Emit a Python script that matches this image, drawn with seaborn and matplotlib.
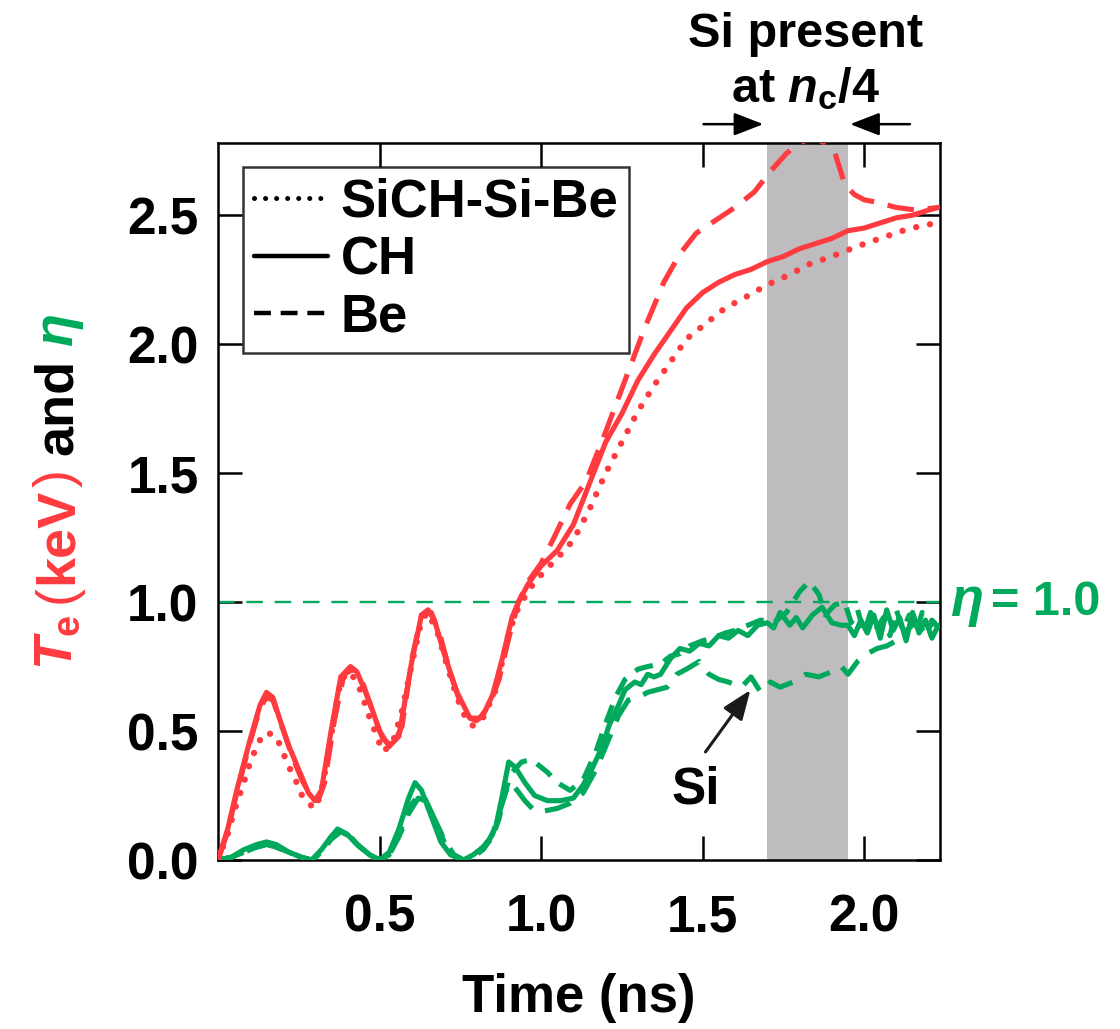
import matplotlib
matplotlib.use("Agg")
import matplotlib.pyplot as plt
from matplotlib.lines import Line2D
import seaborn as sns
import pandas as pd

# ---- Electron temperature Te (keV) ----
t_te_ch = [0.00, 0.03, 0.06, 0.10, 0.13, 0.15, 0.17, 0.19, 0.22, 0.25, 0.28, 0.30, 0.32, 0.35, 0.38,
           0.41, 0.43, 0.47, 0.50, 0.53, 0.56, 0.60, 0.63, 0.65, 0.67, 0.70, 0.74, 0.78, 0.80, 0.82,
           0.85, 0.88, 0.91, 0.93, 0.96, 1.00, 1.05, 1.10, 1.15, 1.20, 1.25, 1.30, 1.35, 1.40, 1.45,
           1.50, 1.55, 1.60, 1.65, 1.70, 1.75, 1.80, 1.85, 1.90, 1.95, 2.00, 2.05, 2.10, 2.15, 2.20, 2.23]
te_ch = [0.00, 0.12, 0.28, 0.47, 0.60, 0.65, 0.63, 0.55, 0.44, 0.35, 0.26, 0.23, 0.27, 0.50, 0.71,
         0.75, 0.73, 0.61, 0.50, 0.44, 0.48, 0.77, 0.95, 0.97, 0.93, 0.80, 0.65, 0.55, 0.54, 0.56,
         0.64, 0.78, 0.94, 1.00, 1.07, 1.14, 1.20, 1.30, 1.46, 1.62, 1.73, 1.86, 1.96, 2.05, 2.14,
         2.20, 2.24, 2.27, 2.29, 2.32, 2.34, 2.37, 2.39, 2.41, 2.44, 2.45, 2.47, 2.49, 2.50, 2.52, 2.53]

t_te_si = [0.00, 0.03, 0.05, 0.08, 0.10, 0.12, 0.14, 0.16, 0.18, 0.20, 0.22, 0.24, 0.26, 0.28, 0.30,
           0.32, 0.35, 0.38, 0.41, 0.44, 0.47, 0.51, 0.54, 0.57, 0.60, 0.63, 0.65, 0.68, 0.71, 0.74,
           0.77, 0.79, 0.82, 0.86, 0.90, 0.93, 0.97, 1.01, 1.05, 1.10, 1.15, 1.20, 1.25, 1.30, 1.35,
           1.40, 1.45, 1.50, 1.57, 1.63, 1.70, 1.77, 1.83, 1.90, 1.98, 2.05, 2.12, 2.18, 2.23]
te_si = [0.00, 0.10, 0.19, 0.30, 0.38, 0.44, 0.49, 0.49, 0.48, 0.42, 0.36, 0.31, 0.25, 0.22, 0.20,
         0.26, 0.48, 0.70, 0.73, 0.66, 0.55, 0.42, 0.45, 0.58, 0.76, 0.93, 0.96, 0.88, 0.75, 0.63,
         0.54, 0.52, 0.55, 0.66, 0.88, 0.98, 1.06, 1.12, 1.17, 1.24, 1.36, 1.50, 1.62, 1.74, 1.84,
         1.93, 2.02, 2.07, 2.14, 2.18, 2.23, 2.27, 2.31, 2.34, 2.38, 2.41, 2.44, 2.46, 2.47]

t_te_be = [0.00, 0.03, 0.06, 0.10, 0.13, 0.15, 0.17, 0.20, 0.23, 0.26, 0.29, 0.31, 0.33, 0.36, 0.39,
           0.42, 0.45, 0.48, 0.51, 0.54, 0.57, 0.60, 0.63, 0.66, 0.69, 0.72, 0.75, 0.78, 0.81, 0.84,
           0.87, 0.90, 0.93, 0.96, 1.00, 1.04, 1.09, 1.14, 1.20, 1.26, 1.32, 1.38, 1.43, 1.48, 1.54,
           1.60, 1.66, 1.71, 1.76, 1.80, 1.84, 1.88, 1.91, 1.94, 1.97, 2.00, 2.04, 2.10, 2.16, 2.23]
te_be = [0.00, 0.11, 0.27, 0.46, 0.59, 0.63, 0.62, 0.51, 0.40, 0.31, 0.24, 0.23, 0.30, 0.54, 0.72,
         0.74, 0.68, 0.57, 0.47, 0.44, 0.52, 0.78, 0.95, 0.96, 0.86, 0.72, 0.61, 0.55, 0.55, 0.60,
         0.70, 0.86, 1.00, 1.08, 1.15, 1.25, 1.38, 1.47, 1.66, 1.86, 2.06, 2.24, 2.35, 2.43, 2.48,
         2.53, 2.59, 2.67, 2.74, 2.78, 2.80, 2.78, 2.74, 2.62, 2.58, 2.56, 2.55, 2.53, 2.52, 2.53]

# ---- Parameter eta ----
t_eta_ch = [0.00, 0.04, 0.08, 0.12, 0.15, 0.18, 0.22, 0.26, 0.29, 0.32, 0.35, 0.37, 0.40, 0.43, 0.47,
            0.50, 0.53, 0.56, 0.59, 0.61, 0.63, 0.66, 0.69, 0.72, 0.76, 0.79, 0.82, 0.84, 0.86, 0.88,
            0.90, 0.92, 0.95, 0.98, 1.02, 1.06, 1.10, 1.13, 1.16, 1.19, 1.21, 1.24, 1.26, 1.29, 1.31,
            1.33, 1.35, 1.37, 1.40, 1.43, 1.46, 1.49, 1.52, 1.55, 1.58, 1.61, 1.64, 1.67, 1.70, 1.72,
            1.74, 1.77, 1.79, 1.81, 1.84, 1.87, 1.90, 1.93, 1.95, 1.97, 1.99, 2.01, 2.03, 2.05, 2.07,
            2.09, 2.11, 2.13, 2.15, 2.17, 2.19, 2.21, 2.23]
eta_ch = [0.00, 0.01, 0.04, 0.06, 0.07, 0.06, 0.03, 0.01, 0.00, 0.04, 0.09, 0.12, 0.10, 0.06, 0.02,
          0.00, 0.03, 0.12, 0.24, 0.30, 0.27, 0.17, 0.07, 0.02, 0.00, 0.02, 0.05, 0.08, 0.13, 0.25,
          0.38, 0.36, 0.30, 0.25, 0.23, 0.23, 0.24, 0.29, 0.36, 0.44, 0.52, 0.60, 0.66, 0.69, 0.68,
          0.72, 0.71, 0.72, 0.78, 0.82, 0.81, 0.84, 0.83, 0.87, 0.86, 0.89, 0.87, 0.91, 0.92, 0.90,
          0.96, 0.91, 0.94, 0.90, 0.95, 0.98, 0.92, 0.91, 0.91, 0.87, 0.93, 0.88, 0.95, 0.86, 0.97,
          0.89, 0.94, 0.85, 0.96, 0.88, 0.93, 0.86, 0.91]

t_eta_be = [0.00, 0.04, 0.08, 0.12, 0.15, 0.18, 0.22, 0.26, 0.29, 0.32, 0.35, 0.38, 0.41, 0.44, 0.47,
            0.50, 0.53, 0.56, 0.59, 0.62, 0.64, 0.67, 0.70, 0.73, 0.76, 0.79, 0.82, 0.85, 0.87, 0.89,
            0.91, 0.94, 0.97, 1.00, 1.02, 1.05, 1.09, 1.13, 1.17, 1.20, 1.23, 1.26, 1.30, 1.33, 1.37,
            1.40, 1.43, 1.46, 1.50, 1.53, 1.57, 1.60, 1.64, 1.68, 1.72, 1.76, 1.80, 1.83, 1.86, 1.88,
            1.91, 1.94, 1.96, 1.98, 2.00, 2.02, 2.04, 2.06, 2.08, 2.10, 2.12, 2.14, 2.16, 2.18, 2.20, 2.22]
eta_be = [0.00, 0.01, 0.03, 0.05, 0.06, 0.05, 0.03, 0.01, 0.00, 0.03, 0.08, 0.11, 0.09, 0.05, 0.02,
          0.00, 0.02, 0.10, 0.20, 0.25, 0.24, 0.16, 0.07, 0.02, 0.00, 0.01, 0.04, 0.09, 0.16, 0.27,
          0.34, 0.38, 0.39, 0.36, 0.34, 0.30, 0.27, 0.31, 0.42, 0.53, 0.63, 0.70, 0.74, 0.75, 0.76,
          0.79, 0.80, 0.83, 0.85, 0.86, 0.88, 0.89, 0.91, 0.93, 0.92, 0.96, 1.04, 1.08, 1.03, 0.95,
          0.99, 1.00, 0.92, 0.97, 0.88, 0.96, 0.90, 0.94, 0.87, 0.97, 0.89, 0.95, 0.88, 0.96, 0.90, 0.93]

t_eta_si = [0.00, 0.04, 0.08, 0.12, 0.15, 0.18, 0.22, 0.26, 0.29, 0.32, 0.35, 0.38, 0.41, 0.44, 0.47,
            0.50, 0.53, 0.56, 0.59, 0.62, 0.64, 0.67, 0.70, 0.73, 0.76, 0.79, 0.82, 0.85, 0.88, 0.90,
            0.92, 0.95, 0.98, 1.01, 1.05, 1.09, 1.13, 1.17, 1.21, 1.24, 1.27, 1.30, 1.33, 1.36, 1.39,
            1.42, 1.45, 1.49, 1.52, 1.55, 1.58, 1.62, 1.65, 1.68, 1.71, 1.74, 1.78, 1.82, 1.86, 1.90,
            1.93, 1.95, 1.98, 2.01, 2.04, 2.07, 2.10, 2.13, 2.16, 2.19, 2.21, 2.23]
eta_si = [0.00, 0.01, 0.03, 0.05, 0.06, 0.05, 0.03, 0.01, 0.00, 0.03, 0.09, 0.11, 0.09, 0.05, 0.02,
          0.00, 0.02, 0.09, 0.18, 0.24, 0.23, 0.16, 0.08, 0.02, 0.00, 0.01, 0.04, 0.10, 0.22, 0.30,
          0.28, 0.23, 0.19, 0.19, 0.20, 0.22, 0.26, 0.35, 0.47, 0.56, 0.62, 0.63, 0.65, 0.66, 0.67,
          0.72, 0.74, 0.77, 0.72, 0.70, 0.69, 0.67, 0.71, 0.65, 0.69, 0.67, 0.69, 0.72, 0.71, 0.73,
          0.75, 0.72, 0.77, 0.80, 0.82, 0.83, 0.85, 0.89, 0.92, 0.88, 0.93, 0.90]

legend_labels = ["SiCH-Si-Be", "CH", "Be"]
x_ticks = [0.5, 1.0, 1.5, 2.0]
y_ticks = [0.0, 0.5, 1.0, 1.5, 2.0, 2.5]
si_window = (1.70, 1.95)

RED = "#FF3B3F"
GREEN = "#00A95C"
SHADE = "#BEBCBE"
FONT = "Liberation Sans"

sns.set_theme(style="ticks")
plt.rcParams["font.family"] = [FONT, "DejaVu Sans"]
plt.rcParams["font.weight"] = "bold"
for key in ("text.color", "axes.labelcolor", "xtick.color", "ytick.color", "axes.edgecolor"):
    plt.rcParams[key] = "black"
plt.rcParams["mathtext.fontset"] = "custom"
plt.rcParams["mathtext.rm"] = "Liberation Sans:bold"
plt.rcParams["mathtext.it"] = "Liberation Sans:italic:bold"
plt.rcParams["mathtext.bf"] = "Liberation Sans:bold"

W, H = 1120, 1029
fig = plt.figure(figsize=(W / 100, H / 100), dpi=100)
ax = fig.add_axes([218 / W, 1 - 860 / H, 722 / W, 717 / H])

FS = 37
LW = 3.7
STY_DOT = (0, (0.01, 2.2))
STY_DASH = (0, (5.2, 2.7))
STY_DASH_SHORT = (0, (3.6, 2.3))

# shaded interval where Si reaches quarter-critical density
ax.axvspan(*si_window, color=SHADE, lw=0, zorder=0)

# eta = 1 reference line
ax.axhline(1.0, color=GREEN, lw=1.7, ls=(0, (7, 5)), zorder=1)

def draw(t, v, color, ls, lw=LW):
    df = pd.DataFrame({"t": t, "v": v})
    sns.lineplot(data=df, x="t", y="v", ax=ax, color=color, lw=lw, sort=False,
                 estimator=None, legend=False, zorder=3)
    line = ax.lines[-1]
    line.set_linestyle(ls)
    line.set_dash_capstyle("round" if ls is STY_DOT else "butt")
    line.set_solid_capstyle("round")
    line.set_solid_joinstyle("round")

draw(t_eta_si, eta_si, GREEN, STY_DASH)
draw(t_eta_be, eta_be, GREEN, STY_DASH_SHORT)
draw(t_eta_ch, eta_ch, GREEN, "-")
draw(t_te_si, te_si, RED, STY_DOT, lw=4.6)
draw(t_te_be, te_be, RED, STY_DASH)
draw(t_te_ch, te_ch, RED, "-")

ax.set_xlim(0, 2.235)
ax.set_ylim(0, 2.78)
ax.set_xticks(x_ticks)
ax.set_yticks(y_ticks)
ax.set_xticklabels([f"{v:.1f}" for v in x_ticks])
ax.set_yticklabels([f"{v:.1f}" for v in y_ticks])
ax.tick_params(direction="in", length=17, width=1.8, top=True, right=True,
               labelsize=FS, pad=14, colors="black")
ax.tick_params(axis="x", pad=24)
for s in ax.spines.values():
    s.set_visible(True)
    s.set_linewidth(1.8)
    s.set_color("black")
ax.set_xlabel("Time (ns)", fontsize=FS + 1, fontweight="bold", labelpad=22)
ax.set_ylabel("")

# legend
handles = [
    Line2D([], [], color="black", lw=3.6, ls=STY_DOT, dash_capstyle="round"),
    Line2D([], [], color="black", lw=3.2, ls="-"),
    Line2D([], [], color="black", lw=3.2, ls=(0, (3.8, 2.2))),
]
leg = ax.legend(handles, legend_labels, loc="upper left", bbox_to_anchor=(0.035, 0.966),
                borderaxespad=0, frameon=True, fancybox=False,
                handlelength=1.4, handletextpad=0.25, labelspacing=0.14,
                borderpad=0.2, prop={"family": FONT, "weight": "bold", "size": FS + 1})
leg.get_frame().set_edgecolor("black")
leg.get_frame().set_linewidth(1.8)

# eta = 1.0 label beside the reference line
eta_txt = ax.text(2.265, 1.0, "\u03b7", color=GREEN, fontsize=FS + 2, va="center", ha="left",
                  fontstyle="italic", fontweight="bold", clip_on=False)
ax.annotate("= 1.0", xy=(1.0, 0.5), xycoords=eta_txt, xytext=(6, 0),
            textcoords="offset points", color=GREEN, fontsize=FS - 2, va="center",
            ha="left", fontweight="bold")

# Si pointer
ax.text(1.478, 0.27, "Si", fontsize=FS, fontweight="bold", ha="center", va="center")
ax.annotate("", xy=(1.648, 0.659), xytext=(1.509, 0.419),
            arrowprops=dict(arrowstyle="-|>,head_length=0.9,head_width=0.35",
                            mutation_scale=20, color="#1a1a1a", lw=2.2,
                            shrinkA=0, shrinkB=0))

# Si window header with bracketing arrows
ax.text(1.82, 3.20, "Si present", fontsize=FS - 2, fontweight="bold", ha="center",
        va="center", clip_on=False)
ax.text(1.82, 2.99, "at $n_\\mathrm{c}$/4", fontsize=FS - 2, fontweight="bold", ha="center",
        va="center", clip_on=False)
arrow_kw = dict(arrowstyle="-|>,head_length=0.9,head_width=0.35", mutation_scale=20,
                color="black", lw=1.8, shrinkA=0, shrinkB=0)
ax.annotate("", xy=(1.688, 2.853), xytext=(1.503, 2.853), arrowprops=arrow_kw,
            annotation_clip=False)
ax.annotate("", xy=(1.957, 2.853), xytext=(2.142, 2.853), arrowprops=arrow_kw,
            annotation_clip=False)

# multi-coloured rotated y label
fig.canvas.draw()
renderer = fig.canvas.get_renderer()
YFS = 39
pieces = [
    ("$T_\\mathrm{e}$", dict(color=RED), 12),
    ("(", dict(color=RED, fontweight="normal"), 1),
    ("keV", dict(color=RED), 1),
    (")", dict(color=RED, fontweight="normal"), 14),
    ("and", dict(color="black"), 13),
    ("\u03b7", dict(color=GREEN, fontstyle="italic"), 0),
]
y_px = 1029 - 670
x_px = 72
for text, kw, gap in pieces:
    kw = dict(kw)
    kw.setdefault("fontweight", "bold")
    t = fig.text(x_px / W, y_px / H, text, rotation=90, rotation_mode="anchor",
                 ha="left", va="baseline", fontsize=YFS, family=[FONT, "DejaVu Sans"], **kw)
    bb = t.get_window_extent(renderer)
    y_px += bb.height + gap

fig.savefig("out.png", dpi=100)
